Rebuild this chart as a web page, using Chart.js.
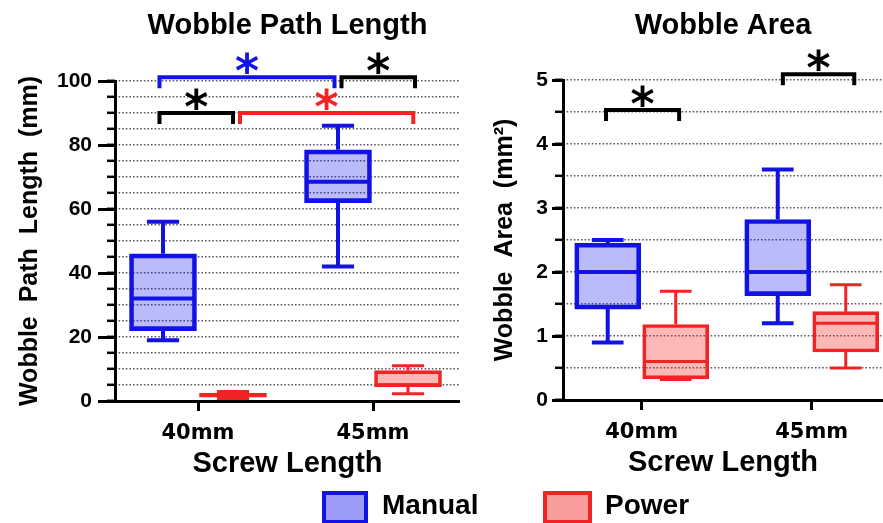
<!DOCTYPE html>
<html>
<head>
<meta charset="utf-8">
<script src="https://cdn.jsdelivr.net/npm/chart.js@4.4.1/dist/chart.umd.min.js"></script>
<style>
  html, body { margin: 0; padding: 0; background: #fff; overflow: hidden; }
  body { width: 883px; height: 523px; position: relative; }
  canvas { position: absolute; top: 0; }
  #pathChart { left: 0; }
  #areaChart { left: 460px; }
  .key { position: absolute; top: 491px; height: 33px; box-sizing: border-box; border: 4px solid; }
  .keyText { position: absolute; top: 489px; line-height: 36px; font: bold 28px "Liberation Sans", Arial, sans-serif; color: #000; }
</style>
</head>
<body>
<canvas id="pathChart" width="460" height="523"></canvas>
<canvas id="areaChart" width="423" height="523"></canvas>
<div id="legend"></div>
<script>
/* ---- data ---- */
const categories = ['40mm', '45mm'];
const seriesNames = ['Manual', 'Power'];

// five-number summary per category: [min, q1, median, q3, max]
const pathManual = [[19, 22, 32, 46, 56], [42, 62, 68.5, 78.5, 86]];
const pathPower  = [[0.8, 1.2, 1.8, 2.5, 3], [2.3, 4.5, 5, 9.5, 11]];
const areaManual = [[0.9, 1.42, 2.0, 2.45, 2.5], [1.2, 1.63, 2.0, 2.82, 3.6]];
const areaPower  = [[0.32, 0.33, 0.6, 1.18, 1.7], [0.5, 0.75, 1.2, 1.38, 1.8]];

// significance brackets: [from, to (category units, 1 = 40mm), level, series compared ('' = between series)]
const pathBrackets = [[0.78, 1.78, 101.2, 'Manual'], [1.82, 2.24, 101.2, ''], [0.78, 1.2, 90, ''], [1.24, 2.23, 90, 'Power']];
const areaBrackets = [[0.79, 1.22, 4.53, ''], [1.83, 2.25, 5.09, '']];

/* ---- styles ---- */
const COLORS = {
  Manual: { line: '#1212e4', fill: 'rgba(30,30,235,0.30)', key: '#9c9cf8' },
  Power:  { line: '#f02424', fill: 'rgba(245,30,30,0.32)', key: '#f99d9d' }
};
const SIDE = 0.2;   // half distance between the Manual and Power boxes (category units)
const BOLD = 'bold';

Chart.defaults.font.family = '"Liberation Sans", Arial, sans-serif';
Chart.defaults.color = '#000';

function boxData(stats, side){
  return stats.map((s, i) => ({ x: i + 1 + side * SIDE, y: [s[1], s[3]], stats: s }));
}

// whiskers + median lines, drawn through the chart's own scales
const boxPlugin = {
  id: 'boxWhiskers',
  afterDatasetsDraw(chart){
    const { ctx } = chart;
    const y = chart.scales.y;
    chart.data.datasets.forEach((ds, di) => {
      chart.getDatasetMeta(di).data.forEach((bar, i) => {
        const [mn, q1, md, q3, mx] = ds.data[i].stats;
        const half = bar.width / 2, cap = bar.width * 0.24;
        const py = v => y.getPixelForValue(v);
        ctx.save();
        ctx.strokeStyle = ds.borderColor;
        ctx.lineWidth = ds.borderWidth;
        ctx.beginPath();
        ctx.moveTo(bar.x - half + 1, py(md)); ctx.lineTo(bar.x + half - 1, py(md));
        ctx.moveTo(bar.x, py(q3)); ctx.lineTo(bar.x, py(mx));
        ctx.moveTo(bar.x - cap, py(mx)); ctx.lineTo(bar.x + cap, py(mx));
        ctx.moveTo(bar.x, py(q1)); ctx.lineTo(bar.x, py(mn));
        ctx.moveTo(bar.x - cap, py(mn)); ctx.lineTo(bar.x + cap, py(mn));
        ctx.stroke();
        ctx.restore();
      });
    });
  }
};

function makeChart(id, o){
  const notes = {
    id: 'notes',
    afterDraw(chart){
      const { ctx, chartArea } = chart;
      const x = chart.scales.x, y = chart.scales.y;
      ctx.save();
      ctx.fillStyle = '#000';
      ctx.textAlign = 'center';
      ctx.textBaseline = 'middle';
      ctx.font = BOLD + ' 29px "Liberation Sans", Arial, sans-serif';
      ctx.fillText(o.title, (chartArea.left + chartArea.right) / 2, 26);
      o.brackets.forEach(([from, to, level, series]) => {
        const col = series ? COLORS[series].line : '#000';
        const x1 = x.getPixelForValue(from), x2 = x.getPixelForValue(to), yy = y.getPixelForValue(level);
        ctx.strokeStyle = col;
        ctx.lineWidth = 4;
        ctx.beginPath();
        ctx.moveTo(x1, yy + 11); ctx.lineTo(x1, yy); ctx.lineTo(x2, yy); ctx.lineTo(x2, yy + 11);
        ctx.stroke();
        ctx.fillStyle = col;
        ctx.font = BOLD + ' 46px "DejaVu Sans", sans-serif';
        ctx.textBaseline = 'alphabetic';
        ctx.fillText('*', (x1 + x2) / 2, yy - 15 + 0.54 * 46);
      });
      ctx.restore();
    }
  };

  const tickFont = { size: 21, weight: BOLD };
  return new Chart(document.getElementById(id), {
    type: 'bar',
    data: {
      datasets: [
        { label: seriesNames[0], data: boxData(o.manual, -1), backgroundColor: COLORS.Manual.fill, borderColor: COLORS.Manual.line,
          borderWidth: 4, borderSkipped: false, barThickness: o.barW, grouped: false, yAxisID: 'y' },
        { label: seriesNames[1], data: boxData(o.power, 1), backgroundColor: COLORS.Power.fill, borderColor: COLORS.Power.line,
          borderWidth: 3, borderSkipped: false, barThickness: o.barW, grouped: false, yAxisID: 'y' }
      ]
    },
    options: {
      responsive: false,
      animation: false,
      layout: { padding: { top: o.top, bottom: 523 - o.bottom - 80, left: 0, right: 0 } },
      plugins: { legend: { display: false }, tooltip: { enabled: false } },
      scales: {
        x: {
          type: 'linear', min: o.xmin, max: o.xmax, offset: false,
          afterBuildTicks: s => { s.ticks = categories.map((c, i) => ({ value: i + 1 })); },
          ticks: { callback: v => categories[v - 1], font: { family: '"DejaVu Sans", sans-serif', size: 21, weight: BOLD }, padding: 10, maxRotation: 0, autoSkip: false },
          grid: { offset: false, drawOnChartArea: false, tickLength: 10, tickWidth: 3, tickColor: '#000' },
          border: { color: '#000', width: 3 },
          title: { display: true, text: 'Screw Length', font: { size: 29, weight: BOLD }, padding: { top: 0, bottom: 0 } },
          afterFit: s => { s.height = 80; }
        },
        y: {
          axis: 'y', position: 'left', weight: 1, min: 0, max: o.ymax,
          ticks: { stepSize: o.major, font: tickFont, padding: o.labelPad },
          grid: { drawOnChartArea: false, tickLength: o.majorLen, tickWidth: 3, tickColor: '#000' },
          border: { color: '#000', width: 3 },
          title: { display: true, text: o.yTitle, font: { size: 25, weight: BOLD }, padding: { top: o.titlePad, bottom: 0 } },
          afterFit: s => { s.width = o.axisW; }
        },
        yMinor: {
          axis: 'y', position: 'left', weight: 0, min: 0, max: o.ymax,
          ticks: { stepSize: o.minor, display: false },
          grid: { color: c => (c.tick && c.tick.value === 0) ? 'rgba(0,0,0,0)' : '#5a5a5a',
                  lineWidth: 1.6, tickLength: 8, tickWidth: 2.5, tickColor: '#000' },
          border: { display: false, dash: [1.6, 2] },
          afterFit: s => { s.width = 0; }
        }
      }
    },
    plugins: [boxPlugin, notes]
  });
}

makeChart('pathChart', {
  title: 'Wobble Path Length', yTitle: 'Wobble  Path  Length  (mm)',
  manual: pathManual, power: pathPower, brackets: pathBrackets,
  ymax: 100, major: 20, minor: 5, majorLen: 17, labelPad: 6,
  top: 81, bottom: 401, axisW: 115, titlePad: 15,
  xmin: 0.5257, xmax: 2.4971, barW: 67
});

makeChart('areaChart', {
  title: 'Wobble Area', yTitle: 'Wobble  Area  (mm\u00B2)',
  manual: areaManual, power: areaPower, brackets: areaBrackets,
  ymax: 5, major: 1, minor: 0.5, majorLen: 11, labelPad: 4,
  top: 80, bottom: 400, axisW: 103, titlePad: 30,
  xmin: 0.537, xmax: 2.419, barW: 66
});

// legend
const legend = document.getElementById('legend');
const keyPos = [{ box: 322, w: 46, text: 382 }, { box: 543, w: 49, text: 605 }];
seriesNames.forEach((name, i) => {
  const c = COLORS[name];
  legend.insertAdjacentHTML('beforeend',
    `<div class="key" style="left:${keyPos[i].box}px;width:${keyPos[i].w}px;border-color:${c.line};background:${c.key}"></div>` +
    `<div class="keyText" style="left:${keyPos[i].text}px">${name}</div>`);
});
</script>
</body>
</html>
